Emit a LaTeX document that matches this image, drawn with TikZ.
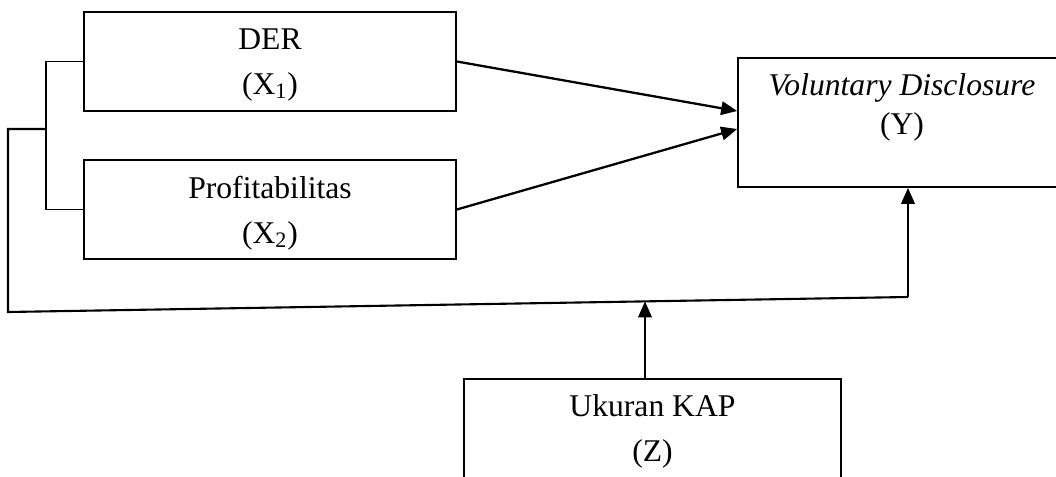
\documentclass[tikz,border=0pt]{standalone}
\usepackage{fontspec}
\setmainfont{Liberation Serif}
\usetikzlibrary{arrows.meta,calc}

\tikzstyle{varbox} = [draw=black,line width=1pt,rectangle,align=center,inner sep=0pt,font=\fontsize{18}{25.5}\selectfont]
\tikzstyle{linkline} = [draw=black,line width=1pt]
\tikzstyle{effectarrow} = [draw=black,line width=1.3pt,-{Triangle[length=0.32cm,width=0.27cm]}]

\begin{document}
\begin{tikzpicture}[x=0.02cm,y=-0.02cm]
    \useasboundingbox (0,0) rectangle (1056,477);

    \coordinate (DER) at (270, 61.5);
    \coordinate (PROF) at (270, 209.5);
    \coordinate (VD) at (902, 122.5);
    \coordinate (KAP) at (652.5, 431);
    \coordinate (brk) at (46, 129);
    \coordinate (lowleft) at (8, 312);
    \coordinate (lowright) at (908, 297);
    \coordinate (zin) at ($(lowleft)!0.7078!(lowright)$);

    \node [style=varbox,minimum width=7.44cm,minimum height=1.98cm,text depth=0pt] (der) at (DER) {DER\\(X\textsubscript{1})};
    \node [style=varbox,minimum width=7.44cm,minimum height=1.98cm,text depth=0pt] (prof) at (PROF) {Profitabilitas\\(X\textsubscript{2})};
    \node [style=varbox,minimum width=6.56cm,minimum height=2.58cm,text depth=21pt] (vd) at (VD) {\textit{Voluntary Disclosure}\\[-3pt](Y)};
    \node [style=varbox,minimum width=7.54cm,minimum height=2.08cm] (kap) at (KAP) {Ukuran KAP\\(Z)};

    \draw [style=linkline] (der.west) -- (der.west -| brk) -- (prof.west -| brk) -- (prof.west);
    \draw [style=linkline,line width=1.2pt] (brk) -| (lowleft) -- (lowright);
    \draw [style=effectarrow] (lowright) -- (lowright |- vd.south);
    \draw [style=effectarrow] (der.east) -- ([yshift=0.23cm]vd.west);
    \draw [style=effectarrow] (prof.east) -- ([yshift=-0.13cm]vd.west);
    \draw [style=effectarrow] ([xshift=-0.15cm]kap.north) -- ([xshift=-0.15cm]kap.north |- zin);
\end{tikzpicture}
\end{document}
